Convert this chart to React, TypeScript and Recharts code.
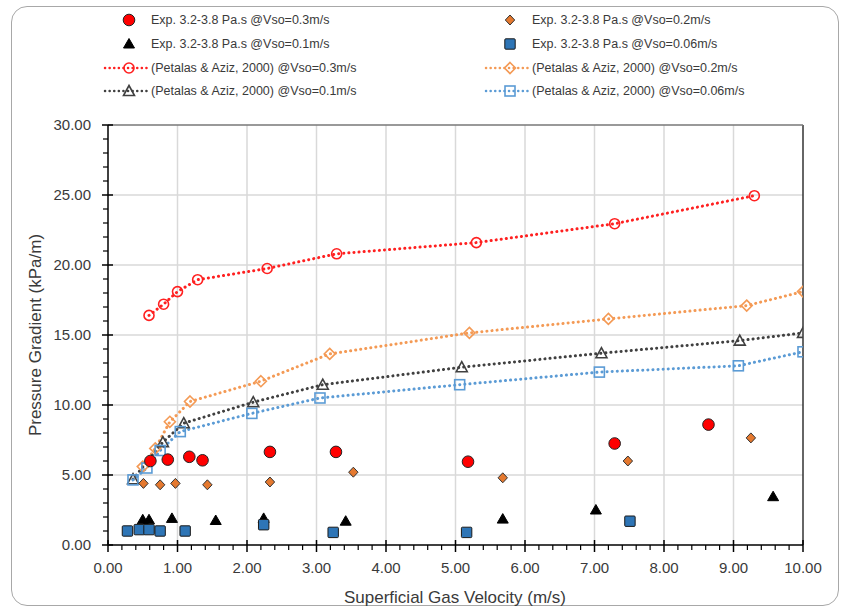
import React from 'react';
import { ComposedChart, Line, Scatter, XAxis, YAxis, ReferenceLine } from 'recharts';

const FONT = "'Liberation Sans', Arial, sans-serif";
const TEXT = '#3a3a3a';

// Experimental data
const exp03X = [0.61, 0.86, 1.17, 1.36, 2.33, 3.28, 5.18, 7.29, 8.64];
const exp03Y = [6.0, 6.1, 6.3, 6.05, 6.65, 6.65, 5.95, 7.25, 8.6];
const exp02X = [0.51, 0.75, 0.97, 1.43, 2.33, 3.53, 5.68, 7.48, 9.25];
const exp02Y = [4.4, 4.3, 4.4, 4.3, 4.5, 5.2, 4.8, 6.0, 7.65];
const exp01X = [0.5, 0.59, 0.92, 1.55, 2.24, 3.42, 5.68, 7.02, 9.57];
const exp01Y = [1.8, 1.8, 1.9, 1.75, 1.9, 1.7, 1.85, 2.5, 3.45];
const exp006X = [0.28, 0.45, 0.59, 0.75, 1.11, 2.24, 3.24, 5.16, 7.51];
const exp006Y = [1.0, 1.1, 1.1, 1.0, 1.0, 1.45, 0.9, 0.9, 1.7];

// Petalas & Aziz (2000) model
const calc03X = [0.59, 0.8, 1.0, 1.29, 2.29, 3.29, 5.3, 7.29, 9.3];
const calc03Y = [16.4, 17.2, 18.1, 18.95, 19.75, 20.8, 21.6, 22.95, 24.95];
const calc02X = [0.5, 0.68, 0.89, 1.18, 2.2, 3.19, 5.2, 7.2, 9.19, 10.0];
const calc02Y = [5.6, 6.9, 8.8, 10.25, 11.7, 13.65, 15.15, 16.15, 17.1, 18.1];
const calc01X = [0.36, 0.79, 1.09, 2.09, 3.09, 5.09, 7.1, 9.09, 10.0];
const calc01Y = [4.7, 7.35, 8.7, 10.2, 11.45, 12.7, 13.7, 14.6, 15.15];
const calc006X = [0.36, 0.56, 0.75, 1.04, 2.07, 3.05, 5.06, 7.07, 9.07, 10.0];
const calc006Y = [4.65, 5.5, 6.75, 8.1, 9.4, 10.5, 11.45, 12.35, 12.8, 13.8];

const xTicks = Array.from({ length: 51 }, (_, i) => i / 5);
const yTicks = Array.from({ length: 31 }, (_, i) => i);
const xGrid = [1, 2, 3, 4, 5, 6, 7, 8, 9];
const yGrid = [5, 10, 15, 20, 25];

const xTitle = 'Superficial Gas Velocity (m/s)';
const yTitle = 'Pressure Gradient (kPa/m)';

const zip = (xs: number[], ys: number[]) => xs.map((x, i) => ({ x, y: ys[i] }));

type Kind = 'circle' | 'diamond' | 'triangle' | 'square';

const expSeries = [
  { name: 'Exp. 3.2-3.8 Pa.s @Vso=0.3m/s', kind: 'circle' as Kind, color: '#ff0000', data: zip(exp03X, exp03Y) },
  { name: 'Exp. 3.2-3.8 Pa.s @Vso=0.2m/s', kind: 'diamond' as Kind, color: '#e5792f', data: zip(exp02X, exp02Y) },
  { name: 'Exp. 3.2-3.8 Pa.s @Vso=0.1m/s', kind: 'triangle' as Kind, color: '#000000', data: zip(exp01X, exp01Y) },
  { name: 'Exp. 3.2-3.8 Pa.s @Vso=0.06m/s', kind: 'square' as Kind, color: '#2e75b6', data: zip(exp006X, exp006Y) },
];

const calcSeries = [
  { name: '(Petalas & Aziz, 2000) @Vso=0.3m/s', kind: 'circle' as Kind, color: '#ff2020', data: zip(calc03X, calc03Y) },
  { name: '(Petalas & Aziz, 2000) @Vso=0.2m/s', kind: 'diamond' as Kind, color: '#f49a55', data: zip(calc02X, calc02Y) },
  { name: '(Petalas & Aziz, 2000) @Vso=0.1m/s', kind: 'triangle' as Kind, color: '#404040', data: zip(calc01X, calc01Y) },
  { name: '(Petalas & Aziz, 2000) @Vso=0.06m/s', kind: 'square' as Kind, color: '#5b9bd5', data: zip(calc006X, calc006Y) },
];

function FilledMarker({ kind, cx, cy, color }: { kind: Kind; cx: number; cy: number; color: string }) {
  if (kind === 'circle') return <circle cx={cx} cy={cy} r={5.8} fill={color} stroke="#222" strokeWidth={1} />;
  if (kind === 'diamond')
    return <path d={`M${cx},${cy - 5}L${cx + 4.7},${cy}L${cx},${cy + 5}L${cx - 4.7},${cy}Z`} fill={color} stroke="#333" strokeWidth={1} />;
  if (kind === 'triangle')
    return <path d={`M${cx},${cy - 5.5}L${cx + 5.5},${cy + 4}L${cx - 5.5},${cy + 4}Z`} fill={color} stroke="#000" strokeWidth={1} />;
  return <rect x={cx - 5.2} y={cy - 5.2} width={10.4} height={10.4} rx={1} fill={color} stroke="#1a1a1a" strokeWidth={1} />;
}

function OpenMarker({ kind, cx, cy, color }: { kind: Kind; cx: number; cy: number; color: string }) {
  const common = { fill: 'none', stroke: color, strokeWidth: 1.6 };
  if (kind === 'circle') return <circle cx={cx} cy={cy} r={5} {...common} />;
  if (kind === 'diamond') return <path d={`M${cx},${cy - 5.5}L${cx + 5.5},${cy}L${cx},${cy + 5.5}L${cx - 5.5},${cy}Z`} {...common} />;
  if (kind === 'triangle') return <path d={`M${cx},${cy - 5.5}L${cx + 5.5},${cy + 4.5}L${cx - 5.5},${cy + 4.5}Z`} {...common} />;
  return <rect x={cx - 5} y={cy - 5} width={10} height={10} {...common} />;
}

const isMajor = (v: number) => Math.abs(v - Math.round(v)) < 1e-6;

const XTick = (props: any) => {
  const { x, y, payload } = props;
  const v = payload.value as number;
  const major = isMajor(v);
  return (
    <g>
      {major ? (
        <line x1={x} x2={x} y1={y - 5} y2={y + 7} stroke="#000" strokeWidth={1.5} />
      ) : (
        <line x1={x} x2={x} y1={y} y2={y + 5} stroke="#000" strokeWidth={1.2} />
      )}
      {major && (
        <text x={x} y={y + 28} textAnchor="middle" fontSize={15} fontFamily={FONT} fill={TEXT}>
          {v.toFixed(2)}
        </text>
      )}
    </g>
  );
};

const YTick = (props: any) => {
  const { x, y, payload } = props;
  const v = payload.value as number;
  const major = v % 5 === 0;
  return (
    <g>
      {major ? (
        <line x1={x - 6} x2={x + 5} y1={y} y2={y} stroke="#000" strokeWidth={1.5} />
      ) : (
        <line x1={x - 5} x2={x} y1={y} y2={y} stroke="#000" strokeWidth={1.2} />
      )}
      {major && (
        <text x={x - 17} y={y} dy="0.35em" textAnchor="end" fontSize={15} fontFamily={FONT} fill={TEXT}>
          {v.toFixed(2)}
        </text>
      )}
    </g>
  );
};

function Legend() {
  const rows = [expSeries[0], expSeries[1], expSeries[2], expSeries[3], calcSeries[0], calcSeries[1], calcSeries[2], calcSeries[3]];
  const rowY = [20, 44, 68, 91];
  const colX = [129, 510];
  return (
    <svg width={842} height={110} style={{ position: 'absolute', left: 0, top: 0 }}>
      {rows.map((s, i) => {
        const r = Math.floor(i / 2);
        const c = i % 2;
        const cx = colX[c];
        const cy = rowY[r];
        const isCalc = r >= 2;
        return (
          <g key={s.name}>
            {isCalc && (
              <line x1={cx - 24} x2={cx + 20} y1={cy} y2={cy} stroke={s.color} strokeWidth={2.5} strokeDasharray="0.1 4.5" strokeLinecap="round" />
            )}
            {isCalc ? (
              <OpenMarker kind={s.kind} cx={cx} cy={cy} color={s.color} />
            ) : (
              <FilledMarker kind={s.kind} cx={cx} cy={cy} color={s.color} />
            )}
            <text x={cx + 22} y={cy} dy="0.35em" fontSize={12.5} fontFamily={FONT} fill={TEXT}>
              {s.name}
            </text>
          </g>
        );
      })}
    </svg>
  );
}

export default function App() {
  return (
    <div style={{ position: 'absolute', left: 0, top: 0, width: 842, height: 609, background: '#fff', fontFamily: FONT }}>
      <div
        style={{
          position: 'absolute',
          left: 11,
          top: 6,
          width: 826,
          height: 598,
          border: '1.5px solid #a8a8a8',
          borderRadius: 16,
        }}
      />
      <div style={{ position: 'absolute', left: 0, top: 0 }}>
        <ComposedChart width={842} height={609} margin={{ top: 125, right: 39, bottom: 0, left: 0 }}>
          <XAxis
            dataKey="x"
            type="number"
            domain={[0, 10]}
            ticks={xTicks}
            interval={0}
            tickLine={false}
            tickSize={0}
            tickMargin={0}
            tick={<XTick />}
            axisLine={{ stroke: '#000', strokeWidth: 1.5 }}
            height={64}
            allowDataOverflow
          />
          <YAxis
            dataKey="y"
            type="number"
            domain={[0, 30]}
            ticks={yTicks}
            interval={0}
            tickLine={false}
            tickSize={0}
            tickMargin={0}
            tick={<YTick />}
            axisLine={{ stroke: '#000', strokeWidth: 1.5 }}
            width={108}
            allowDataOverflow
          />
          {xGrid.map((v) => (
            <ReferenceLine key={'gx' + v} x={v} stroke="#d9d9d9" strokeWidth={1.5} />
          ))}
          {yGrid.map((v) => (
            <ReferenceLine key={'gy' + v} y={v} stroke="#d9d9d9" strokeWidth={1.5} />
          ))}
          <ReferenceLine x={10} stroke="#333" strokeWidth={1.5} />
          <ReferenceLine y={30} stroke="#777" strokeWidth={1.5} />
          {calcSeries.map((s) => (
            <Line
              key={s.name}
              data={s.data}
              dataKey="y"
              type="linear"
              stroke={s.color}
              strokeWidth={3}
              strokeDasharray="0.1 5"
              strokeLinecap="round"
              isAnimationActive={false}
              dot={(p: any) => <OpenMarker key={p.index} kind={s.kind} cx={p.cx} cy={p.cy} color={s.color} />}
              activeDot={false}
            />
          ))}
          {expSeries.map((s) => (
            <Scatter
              key={s.name}
              data={s.data}
              dataKey="y"
              isAnimationActive={false}
              shape={(p: any) => <FilledMarker kind={s.kind} cx={p.cx} cy={p.cy} color={s.color} />}
            />
          ))}
        </ComposedChart>
      </div>
      <Legend />
      <svg width={842} height={609} style={{ position: 'absolute', left: 0, top: 0, pointerEvents: 'none' }}>
        <text x={455} y={603} textAnchor="middle" fontSize={17} fontFamily={FONT} fill={TEXT}>
          {xTitle}
        </text>
        <text x={35} y={335} transform="rotate(-90 35 335)" dy="0.35em" textAnchor="middle" fontSize={17} fontFamily={FONT} fill={TEXT}>
          {yTitle}
        </text>
      </svg>
    </div>
  );
}
